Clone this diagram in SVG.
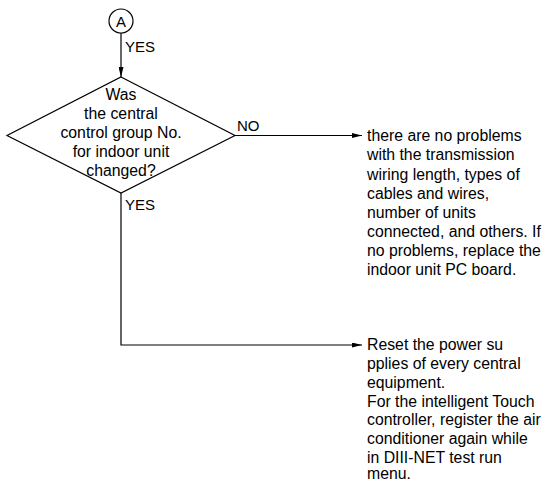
<svg xmlns="http://www.w3.org/2000/svg" width="548" height="482" viewBox="0 0 548 482">
<style>
.s{fill:none;stroke:#000;stroke-width:1.2}
.t{font-family:"Liberation Sans",Arial,sans-serif;font-size:15px;fill:#000}
.r{font-family:"Liberation Sans",Arial,sans-serif;font-size:15.8px;fill:#000}
.c{text-anchor:middle}
</style>
<defs>
<marker id="ah" markerWidth="10" markerHeight="5" refX="10" refY="2.5" orient="auto" markerUnits="userSpaceOnUse">
<path d="M0,0 L10,2.5 L0,5 Z" fill="#000"/>
</marker>
</defs>
<rect width="548" height="482" fill="#fff"/>
<g id="connectors">
<line class="s" x1="121" y1="33" x2="121" y2="77" marker-end="url(#ah)"/>
<polyline class="s" points="235,135.5 362,135.5" marker-end="url(#ah)"/>
<polyline class="s" points="121,193 121,345 362,345" marker-end="url(#ah)"/>
<text class="t" x="125" y="52">YES</text>
<text class="t" x="237" y="131">NO</text>
<text class="t" x="125" y="210">YES</text>
</g>
<g id="nodeA">
<circle class="s" cx="121" cy="21" r="12"/>
<text class="t c" x="121" y="26.5">A</text>
</g>
<g id="decision">
<polygon class="s" points="121,77 235,135.5 121,193 7,135.5"/>
<text class="r c" x="121" y="100">Was</text>
<text class="r c" x="121" y="119">the central</text>
<text class="r c" x="121" y="138">control group No.</text>
<text class="r c" x="121" y="157">for indoor unit</text>
<text class="r c" x="121" y="176">changed?</text>
</g>
<g id="noResult">
<text class="r" x="367" y="141">there are no problems</text>
<text class="r" x="367" y="160">with the transmission</text>
<text class="r" x="367" y="179.5">wiring length, types of</text>
<text class="r" x="367" y="198.5">cables and wires,</text>
<text class="r" x="367" y="217.5">number of units</text>
<text class="r" x="367" y="236.5">connected, and others. If</text>
<text class="r" x="367" y="255.5">no problems, replace the</text>
<text class="r" x="367" y="274.5">indoor unit PC board.</text>
</g>
<g id="yesResult">
<text class="r" x="367" y="350">Reset the power su</text>
<text class="r" x="367" y="369">pplies of every central</text>
<text class="r" x="367" y="388">equipment.</text>
<text class="r" x="367" y="406.5">For the intelligent Touch</text>
<text class="r" x="367" y="425">controller, register the air</text>
<text class="r" x="367" y="444">conditioner again while</text>
<text class="r" x="367" y="462.5">in DIII-NET test run</text>
<text class="r" x="367" y="479">menu.</text>
</g>
</svg>
